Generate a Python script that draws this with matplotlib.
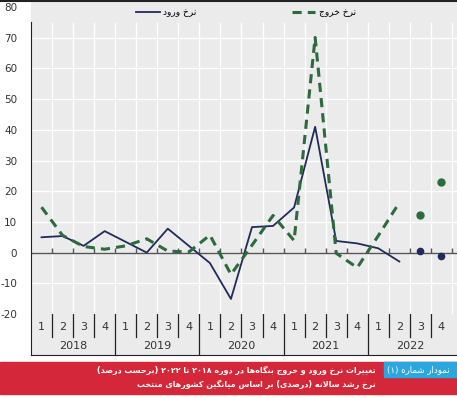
import re
import matplotlib
matplotlib.use('Agg')
import matplotlib.pyplot as plt
from matplotlib.lines import Line2D
from matplotlib.patches import Rectangle
import numpy as np

plt.rcParams['font.family'] = ['DejaVu Sans']
plt.rcParams['axes.unicode_minus'] = False

# data
quarters = ['1', '2', '3', '4'] * 5
years = ['2018', '2019', '2020', '2021', '2022']
entry_rate = [5.0, 5.4, 2.2, 7.0, 3.5, 0.0, 7.8, 2.2, -3.4, -15.1,
              8.3, 8.7, 14.7, 41.0, 3.8, 3.0, 1.4, -2.9]
exit_rate = [14.8, 5.6, 2.0, 1.1, 2.2, 4.5, 0.5, 0.2, 5.7, -7.1,
             2.4, 12.1, 3.9, 70.1, -0.2, -4.9, 5.5, 16.3]
entry_est = [0.5, -1.1]   # 2022 Q3, Q4
exit_est = [12.2, 22.9]

label_entry = 'نرخ ورود'
label_exit = 'نرخ خروج'
box_text = 'نمودار شماره (۱)'
title1 = 'تغییرات نرخ ورود و خروج بنگاه\u200cها در دوره ۲۰۱۸ تا ۲۰۲۲ (برحسب درصد)'
title2 = 'نرخ رشد سالانه (درصدی) بر اساس میانگین کشورهای منتخب'

# --- minimal arabic shaping (matplotlib has no bidi / joining) ---
FORMS = {
    'ا': (0xFE8D, 0xFE8E), 'آ': (0xFE81, 0xFE82), 'د': (0xFEA9, 0xFEAA),
    'ذ': (0xFEAB, 0xFEAC), 'ر': (0xFEAD, 0xFEAE), 'ز': (0xFEAF, 0xFEB0),
    'ژ': (0xFB8A, 0xFB8B), 'و': (0xFEED, 0xFEEE),
    'ب': (0xFE8F, 0xFE90, 0xFE91, 0xFE92), 'پ': (0xFB56, 0xFB57, 0xFB58, 0xFB59),
    'ت': (0xFE95, 0xFE96, 0xFE97, 0xFE98), 'ث': (0xFE99, 0xFE9A, 0xFE9B, 0xFE9C),
    'ج': (0xFE9D, 0xFE9E, 0xFE9F, 0xFEA0), 'چ': (0xFB7A, 0xFB7B, 0xFB7C, 0xFB7D),
    'ح': (0xFEA1, 0xFEA2, 0xFEA3, 0xFEA4), 'خ': (0xFEA5, 0xFEA6, 0xFEA7, 0xFEA8),
    'س': (0xFEB1, 0xFEB2, 0xFEB3, 0xFEB4), 'ش': (0xFEB5, 0xFEB6, 0xFEB7, 0xFEB8),
    'ص': (0xFEB9, 0xFEBA, 0xFEBB, 0xFEBC), 'ع': (0xFEC9, 0xFECA, 0xFECB, 0xFECC),
    'غ': (0xFECD, 0xFECE, 0xFECF, 0xFED0), 'ف': (0xFED1, 0xFED2, 0xFED3, 0xFED4),
    'ق': (0xFED5, 0xFED6, 0xFED7, 0xFED8), 'ک': (0xFB8E, 0xFB8F, 0xFB90, 0xFB91),
    'گ': (0xFB92, 0xFB93, 0xFB94, 0xFB95), 'ل': (0xFEDD, 0xFEDE, 0xFEDF, 0xFEE0),
    'م': (0xFEE1, 0xFEE2, 0xFEE3, 0xFEE4), 'ن': (0xFEE5, 0xFEE6, 0xFEE7, 0xFEE8),
    'ه': (0xFEE9, 0xFEEA, 0xFEEB, 0xFEEC), 'ی': (0xFBFC, 0xFBFD, 0xFBFE, 0xFBFF),
}


def shape(s):
    chars = []
    i = 0
    while i < len(s):
        if s[i] == 'ل' and i + 1 < len(s) and s[i + 1] in 'اآ':
            chars.append('LA' if s[i + 1] == 'ا' else 'LAA')
            i += 2
        else:
            chars.append(s[i])
            i += 1

    def dual(c):
        return c in FORMS and len(FORMS[c]) == 4

    def joins(c):
        return c in FORMS or c in ('LA', 'LAA')

    out = []
    for k, c in enumerate(chars):
        prev = chars[k - 1] if k > 0 else None
        nxt = chars[k + 1] if k + 1 < len(chars) else None
        jp = prev is not None and dual(prev) and joins(c)
        if c in ('LA', 'LAA'):
            base = 0xFEFB if c == 'LA' else 0xFEF5
            out.append(chr(base + (1 if jp else 0)))
            continue
        if c not in FORMS:
            out.append(c)
            continue
        f = FORMS[c]
        jn = dual(c) and nxt is not None and joins(nxt)
        if len(f) == 2:
            out.append(chr(f[1] if jp else f[0]))
        else:
            idx = 3 if (jp and jn) else 1 if jp else 2 if jn else 0
            out.append(chr(f[idx]))
    return ''.join(out)


def rtl(s):
    shaped = shape(s).replace('\u200c', '')
    tokens = re.findall(r'[۰-۹0-9]+|.', shaped)
    mirror = {'(': ')', ')': '('}
    return ''.join(mirror.get(t, t) for t in reversed(tokens))


W, H = 457, 398
fig = plt.figure(figsize=(W / 100, H / 100), dpi=100)
bg = '#ebebeb'
navy = '#1f2b5c'
green = '#2b6b3c'

ax = fig.add_axes([31 / W, 1 - 314 / H, 426 / W, 314 / H])
ax.set_facecolor(bg)
x = np.arange(len(entry_rate))
xe = np.arange(len(entry_rate), len(quarters))
ax.set_xlim(-0.5, 19.74)
ax.set_ylim(-20, 82.3)

for v in range(-10, 80, 10):
    ax.axhline(v, color='white', lw=1, zorder=0)
ax.vlines(np.arange(0.5, 20, 1), -20, 75, color='white', lw=1, zorder=0)
ax.axhline(0, color='#555555', lw=1, zorder=1)

ax.plot(x, entry_rate, color=navy, lw=1.3, label=rtl(label_entry), zorder=3)
ax.plot(x, exit_rate, color=green, lw=2.2, ls=(0, (3, 2)), label=rtl(label_exit), zorder=3)
ax.plot(xe, entry_est, 'o', color=navy, ms=4.5, zorder=4)
ax.plot(xe, exit_est, 'o', color=green, ms=5, zorder=4)

for s in ['top', 'right', 'bottom']:
    ax.spines[s].set_visible(False)
ax.spines['left'].set_color('#222222')
ax.spines['left'].set_bounds(-20, 75)
ax.set_yticks(range(-20, 90, 10))
ax.tick_params(axis='y', length=0, pad=10, labelsize=7.5, labelcolor='#333333')
ax.set_xticks(np.arange(0.5, 19.6, 1))
ax.set_xticklabels([])
ax.tick_params(axis='x', length=0)
ax.vlines(np.arange(0.5, 19.6, 1), 0, 1.5, color='#555555', lw=1, zorder=1)

ax.legend(loc='upper center', bbox_to_anchor=(0.505, 1.0), ncol=2, frameon=False,
          fontsize=6.5, handlelength=2.6, columnspacing=10.5, handletextpad=0.4)

# category axis
cax = fig.add_axes([31 / W, 1 - 355 / H, 426 / W, 41 / H])
cax.set_facecolor(bg)
cax.set_xlim(-0.5, 19.74)
cax.set_ylim(0, 1)
cax.set_xticks([])
cax.set_yticks([])
for s in ['top', 'right']:
    cax.spines[s].set_visible(False)
cax.spines['left'].set_color('#222222')
cax.spines['bottom'].set_color('#222222')
for i, q in enumerate(quarters):
    cax.text(i, 0.68, q, ha='center', va='center', fontsize=8, color='#333333')
    if i % 4 != 3:
        cax.plot([i + 0.5, i + 0.5], [0.45, 1], color='#222222', lw=0.9)
    elif i < 19:
        cax.plot([i + 0.5, i + 0.5], [0, 1], color='#222222', lw=0.9)
for j, yr in enumerate(years):
    cax.text(4 * j + 1.5, 0.22, yr, ha='center', va='center', fontsize=8, color='#333333')

# top border
fig.add_artist(Line2D([0, 1], [1 - 1 / H, 1 - 1 / H], color='#222222', lw=1.5))

# caption banner
fig.add_artist(Rectangle((0, 1 - 394 / H), 1, 32 / H, color='#d4283a', transform=fig.transFigure))
fig.add_artist(Rectangle((384 / W, 1 - 377 / H), 73 / W, 15 / H, color='#2aa7de', transform=fig.transFigure))
fig.text(450 / W, 1 - 370 / H, rtl(box_text), ha='right', va='center', fontsize=6.2, color='white')
fig.text(376 / W, 1 - 370 / H, rtl(title1), ha='right', va='center', fontsize=5.8,
         color='white', fontweight='bold')
fig.text(376 / W, 1 - 384 / H, rtl(title2), ha='right', va='center', fontsize=5.8,
         color='white', fontweight='bold')

fig.savefig('out.png', dpi=100)
